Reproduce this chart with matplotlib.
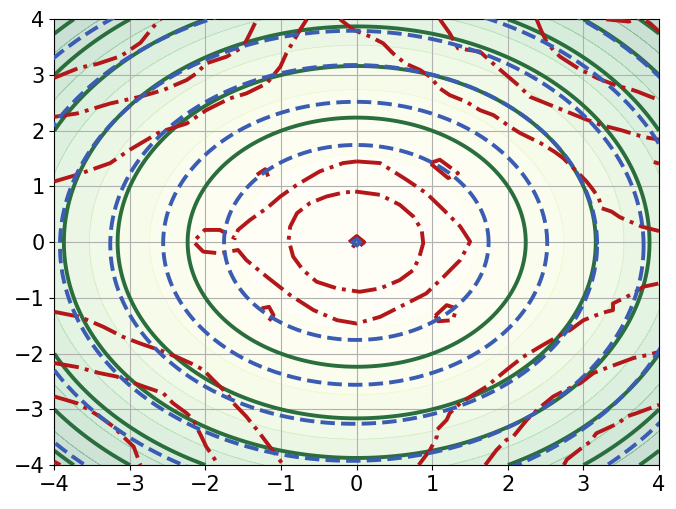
import numpy as np
import matplotlib
matplotlib.use("Agg")
import matplotlib.pyplot as plt

# background field levels (squared radius) and solid green contour levels
bg_levels = [0, 2.5, 5, 7.5, 10, 12.5, 15, 17.5, 20, 22.5, 25, 27.5, 30, 32.5, 35]
green_levels = [5, 10, 15, 20, 25, 30]

# blue dashed rings: radius and small shift of centre toward lower left
blue_radii = [1.75, 2.54, 3.22, 3.86, 4.49, 5.18]
blue_shift = [0.005, 0.02, 0.04, 0.065, 0.09, 0.14]

# red dash-dot contour paths (x, y)
red_a1 = [(-4.0, 2.95), (-3.67, 3.13), (-3.43, 3.2), (-3.12, 3.34), (-2.86, 3.58),
          (-2.7, 3.85), (-2.6, 4.0)]
red_a2 = [(-4.0, 2.25), (-3.70, 2.31), (-3.26, 2.49), (-2.87, 2.61), (-2.56, 2.73),
          (-2.25, 2.91), (-2.12, 3.03), (-1.99, 3.21), (-1.72, 3.33), (-1.5, 3.51),
          (-1.41, 3.75), (-1.32, 4.0)]
red_a3 = [(-4.0, 1.09), (-3.70, 1.21), (-3.26, 1.42), (-3.0, 1.66), (-2.6, 1.98),
          (-2.25, 2.13), (-1.99, 2.37), (-1.68, 2.58), (-1.46, 2.67), (-1.19, 2.85),
          (-1.01, 3.15), (-0.93, 3.39), (-0.75, 3.81), (-0.66, 4.0)]
red_c1 = [(-0.22, 4.0), (-0.04, 3.81), (0.18, 3.69), (0.35, 3.57), (0.48, 3.39),
          (0.64, 3.21), (0.84, 3.09), (0.97, 2.97), (1.1, 2.76), (1.23, 2.64),
          (1.45, 2.52), (1.63, 2.37), (1.81, 2.28), (2.03, 2.07), (2.16, 1.96),
          (2.43, 1.78), (2.62, 1.62), (2.73, 1.51), (2.91, 1.27), (3.04, 1.09),
          (3.11, 0.97), (3.2, 0.8), (3.24, 0.61), (3.37, 0.55), (3.48, 0.45),
          (3.77, 0.28), (4.0, 0.2)]
red_c2 = [(1.10, 4.0), (1.23, 3.75), (1.34, 3.48), (1.63, 3.42), (1.85, 3.15),
          (2.16, 2.79), (2.29, 2.61), (2.51, 2.49), (2.73, 2.37), (3.04, 2.2),
          (3.24, 2.10), (3.5, 2.01), (3.79, 1.89), (4.0, 1.84)]
red_c3 = [(2.38, 4.0), (2.44, 3.8), (2.51, 3.6), (2.6, 3.45), (2.69, 3.33),
          (2.93, 3.12), (3.19, 2.94), (3.48, 2.79), (3.59, 2.76), (3.72, 2.70),
          (4.0, 2.55)]
red_c4 = [(3.3, 4.0), (3.6, 3.96), (3.75, 4.03), (3.88, 3.93), (4.0, 3.78)]
red_c5 = [(3.93, 1.44), (4.0, 1.41)]
red_d1 = [(0.82, -4.0), (0.97, -3.73), (1.06, -3.49), (1.06, -3.37), (1.19, -3.19),
          (1.23, -3.07), (1.37, -2.89), (1.54, -2.74), (1.72, -2.59), (1.85, -2.44),
          (2.03, -2.24), (2.2, -2.06), (2.42, -1.88), (2.65, -1.70), (2.82, -1.58),
          (3.0, -1.40), (3.17, -1.31), (3.30, -1.25), (3.39, -1.22), (3.39, -1.10),
          (3.48, -1.04), (3.66, -0.92), (3.79, -0.80), (4.0, -0.74)]
red_d2 = [(1.70, -4.0), (1.85, -3.73), (1.98, -3.55), (2.07, -3.49), (2.25, -3.19),
          (2.42, -2.97), (2.6, -2.77), (2.77, -2.65), (2.96, -2.53), (3.13, -2.35),
          (3.30, -2.26), (3.48, -2.17), (3.66, -2.08), (3.83, -2.03), (4.0, -1.97)]
red_d3 = [(2.74, -4.0), (2.78, -3.9), (2.97, -3.70), (3.09, -3.58), (3.17, -3.43),
          (3.46, -3.25), (3.57, -3.13), (3.70, -3.07), (4.0, -2.92)]
red_e1 = [(-4.0, -1.25), (-3.66, -1.34), (-3.35, -1.52), (-3.09, -1.70), (-2.86, -1.82),
          (-2.6, -1.94), (-2.38, -2.06), (-2.2, -2.17), (-2.03, -2.29), (-1.9, -2.47),
          (-1.72, -2.71), (-1.63, -2.89), (-1.46, -3.13), (-1.3, -3.4), (-1.15, -3.67),
          (-0.97, -4.0)]
red_e2 = [(-4.0, -2.17), (-3.70, -2.24), (-3.40, -2.35), (-3.18, -2.41), (-3.0, -2.5),
          (-2.82, -2.59), (-2.56, -2.71), (-2.43, -2.89), (-2.25, -3.07), (-2.16, -3.19),
          (-2.12, -3.31), (-2.05, -3.5), (-1.99, -3.67), (-1.9, -3.85), (-1.83, -4.0)]
red_e3 = [(-4.0, -2.77), (-3.70, -2.89), (-3.55, -3.0), (-3.40, -3.13), (-3.22, -3.31),
          (-3.09, -3.49), (-2.95, -3.67), (-2.86, -4.0)]
red_e4 = [(-4.0, -3.94), (-3.92, -4.0)]
red_b1 = [(-0.02, 0.91), (0.31, 0.85), (0.57, 0.67), (0.75, 0.46), (0.86, 0.22),
          (0.88, -0.02), (0.83, -0.26), (0.75, -0.5), (0.57, -0.68), (0.31, -0.83),
          (0.04, -0.89), (-0.26, -0.83), (-0.53, -0.71), (-0.71, -0.5), (-0.84, -0.26),
          (-0.9, 0.04), (-0.88, 0.28), (-0.79, 0.52), (-0.62, 0.70), (-0.4, 0.82),
          (-0.18, 0.89), (-0.02, 0.91)]
red_b2 = [(0.0, 1.45), (0.31, 1.42), (0.66, 1.12), (0.92, 0.88), (1.15, 0.58),
          (1.37, 0.28), (1.5, 0.01), (1.37, -0.32), (1.15, -0.62), (0.92, -0.92),
          (0.66, -1.1), (0.31, -1.34), (0.0, -1.46), (-0.26, -1.4), (-0.57, -1.22),
          (-0.88, -0.95), (-1.19, -0.62), (-1.46, -0.32), (-1.57, -0.14), (-1.81, -0.2),
          (-2.03, -0.17), (-2.16, 0.01), (-2.01, 0.22), (-1.81, 0.22), (-1.61, 0.07),
          (-1.57, 0.22), (-1.41, 0.4), (-1.19, 0.61), (-1.01, 0.82), (-0.79, 1.03),
          (-0.49, 1.27), (-0.18, 1.42), (0.0, 1.45)]
red_f1 = [(-1.32, 1.21), (-1.21, 1.31), (-1.17, 1.18)]
red_f2 = [(0.97, 1.42), (1.1, 1.48), (1.34, 1.24), (1.21, 1.15), (0.97, 1.42)]
red_f3 = [(-1.26, -1.19), (-1.16, -1.16), (-1.1, -1.31), (-1.16, -1.41)]
red_f4 = [(1.04, -1.32), (1.19, -1.13), (1.32, -1.19), (1.27, -1.40), (1.08, -1.42),
          (1.04, -1.32)]
red_mid = [(-0.1, 0.0), (0.0, 0.11), (0.1, 0.0), (0.0, -0.11), (-0.1, 0.0)]
blue_mid = [(-0.05, 0.0), (0.0, 0.06), (0.05, 0.0), (0.0, -0.06), (-0.05, 0.0)]

red_paths = [red_a1, red_a2, red_a3, red_c1, red_c2, red_c3, red_c4, red_c5,
             red_d1, red_d2, red_d3, red_e1, red_e2, red_e3, red_e4,
             red_b1, red_b2, red_f1, red_f2, red_f3, red_f4, red_mid]

GREEN = '#2b6e3e'
BLUE = '#3a5cb3'
RED = '#b3171a'

fig = plt.figure(figsize=(6.76, 5.09), dpi=100)
ax = fig.add_subplot(1, 1, 1)
fig.subplots_adjust(left=0.0803, right=0.975, bottom=0.0864, top=0.962)

x = np.linspace(-4, 4, 301)
X, Y = np.meshgrid(x, x)
R2 = X**2 + Y**2

ax.contourf(X, Y, R2, levels=bg_levels, cmap='YlGn', alpha=0.22, extend='max')
ax.contour(X, Y, R2, levels=bg_levels, cmap='YlGn', alpha=0.15, linewidths=0.8)
ax.contour(X, Y, R2, levels=green_levels, colors=GREEN, linewidths=2.8,
           linestyles='-')

t = np.linspace(0, 2 * np.pi, 400)
for r, s in zip(blue_radii, blue_shift):
    ax.plot(r * np.cos(t) - s, r * np.sin(t) - s, color=BLUE, lw=2.8, ls='--',
            zorder=4)

for path in red_paths:
    px, py = zip(*path)
    ax.plot(px, py, color=RED, lw=2.8, ls='-.', zorder=3)

bx, by = zip(*blue_mid)
ax.plot(bx, by, color=BLUE, lw=2.8, zorder=4)

ax.set_xlim(-4, 4)
ax.set_ylim(-4, 4)
ax.set_xticks(range(-4, 5))
ax.set_yticks(range(-4, 5))
ax.tick_params(labelsize=15)
ax.grid(True)

fig.savefig('out.png', dpi=100)
